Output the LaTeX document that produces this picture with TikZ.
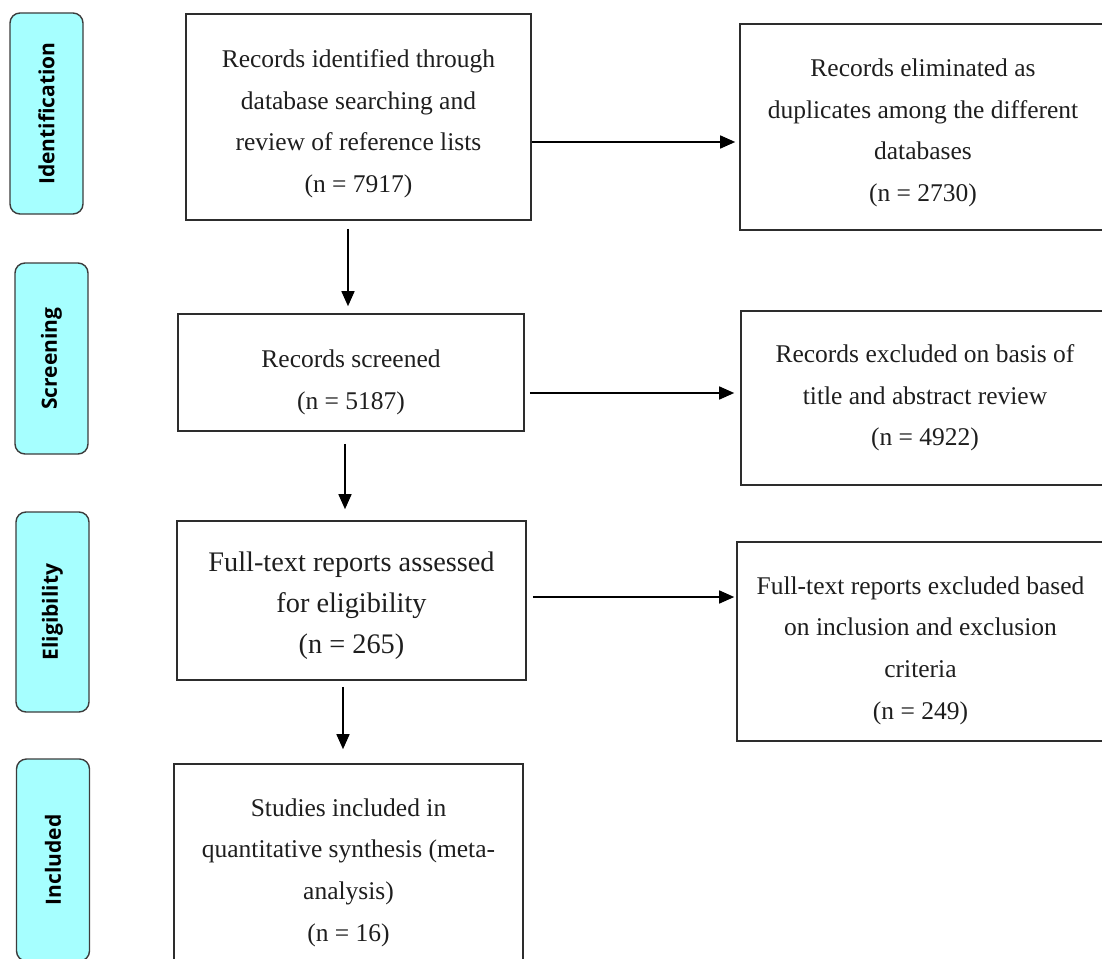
\documentclass[tikz,border=0pt]{standalone}
\usepackage{fontspec}
\setmainfont{Liberation Serif}
\newfontfamily\sidefont{Open Sans}
\usetikzlibrary{arrows.meta,calc}
\definecolor{sidecyan}{RGB}{166,255,255}
\definecolor{sidegray}{RGB}{60,60,60}
\definecolor{boxgray}{RGB}{45,45,45}
\definecolor{textgray}{RGB}{30,30,30}
\newcommand{\tup}[1]{\rule{0pt}{#1pt}}
\begin{document}
\begin{tikzpicture}[x=1pt,y=-1pt,
  box/.style={draw=boxgray, line width=1.6pt, inner sep=0pt, align=center, text=textgray,
    font=\fontsize{25.5}{41.7}\selectfont},
  bigbox/.style={box, font=\fontsize{28.3}{41}\selectfont},
  side/.style={draw=sidegray, fill=sidecyan, rounded corners=10pt, line width=1.4pt,
    inner sep=0pt, rotate=90, minimum height=73pt, text=black,
    font=\sidefont\bfseries\fontsize{21}{24}\selectfont},
  arr/.style={-{Triangle[length=15pt,width=13pt]}, line width=1.5pt, draw=black}]
\useasboundingbox (0,0) rectangle (1102,958);

% stage labels
\node[side, minimum width=201pt] (sI) at (46.5,113.5) {Identification};
\node[side, minimum width=191pt] (sS) at (51.5,358.5) {Screening};
\node[side, minimum width=200pt] (sE) at (52.5,612) {Eligibility};
\node[side, minimum width=202pt] (sN) at (53,860) {Included};

% main column
\node[box, minimum width=345pt, minimum height=206pt] (B1) at (358.5,117)
  {\tup{31.6}Records identified through\\database searching and\\review of reference lists\\(n = 7917)};
\node[box, minimum width=346pt, minimum height=117pt] (B2) at (351,372.5)
  {\tup{37.6}Records screened\\(n = 5187)};
\node[bigbox, minimum width=349pt, minimum height=159pt] (B3) at (351.5,600.5)
  {\tup{29.3}Full-text reports assessed\\for eligibility\\(n = 265)};
\node[box, minimum width=349pt, minimum height=213pt] (B4) at (348.5,870.5)
  {\tup{21.6}Studies included in\\quantitative synthesis (meta-\\analysis)\\(n = 16)};

% right column
\node[box, minimum width=366pt, minimum height=206pt] (R1) at (923,127)
  {\tup{29.6}Records eliminated as\\duplicates among the different\\databases\\(n = 2730)};
\node[box, minimum width=368pt, minimum height=174pt] (R2) at (925,398)
  {Records excluded on basis of\\title and abstract review\\(n = 4922)};
\node[box, minimum width=367pt, minimum height=199pt] (R3) at (920.5,641.5)
  {\tup{35.6}Full-text reports excluded based\\on inclusion and exclusion\\criteria\\(n = 249)};

% guide coordinates
\coordinate (v1) at (348,0);
\coordinate (v2) at (345,0);
\coordinate (v3) at (343,0);
\coordinate (h1) at (0,142);
\coordinate (h2) at (0,393);
\coordinate (h3) at (0,597);

% vertical arrows
\draw[arr, shorten <=8pt, shorten >=7pt] (B1.south -| v1) -- (B2.north -| v1);
\draw[arr, shorten <=12pt, shorten >=11pt] (B2.south -| v2) -- (B3.north -| v2);
\draw[arr, shorten <=6pt, shorten >=14pt] (B3.south -| v3) -- (B4.north -| v3);

% horizontal arrows
\draw[arr, shorten >=4pt] (B1.east |- h1) -- (R1.west |- h1);
\draw[arr, shorten <=5pt, shorten >=6pt] (B2.east |- h2) -- (R2.west |- h2);
\draw[arr, shorten <=6pt, shorten >=2pt] (B3.east |- h3) -- (R3.west |- h3);
\end{tikzpicture}
\end{document}
